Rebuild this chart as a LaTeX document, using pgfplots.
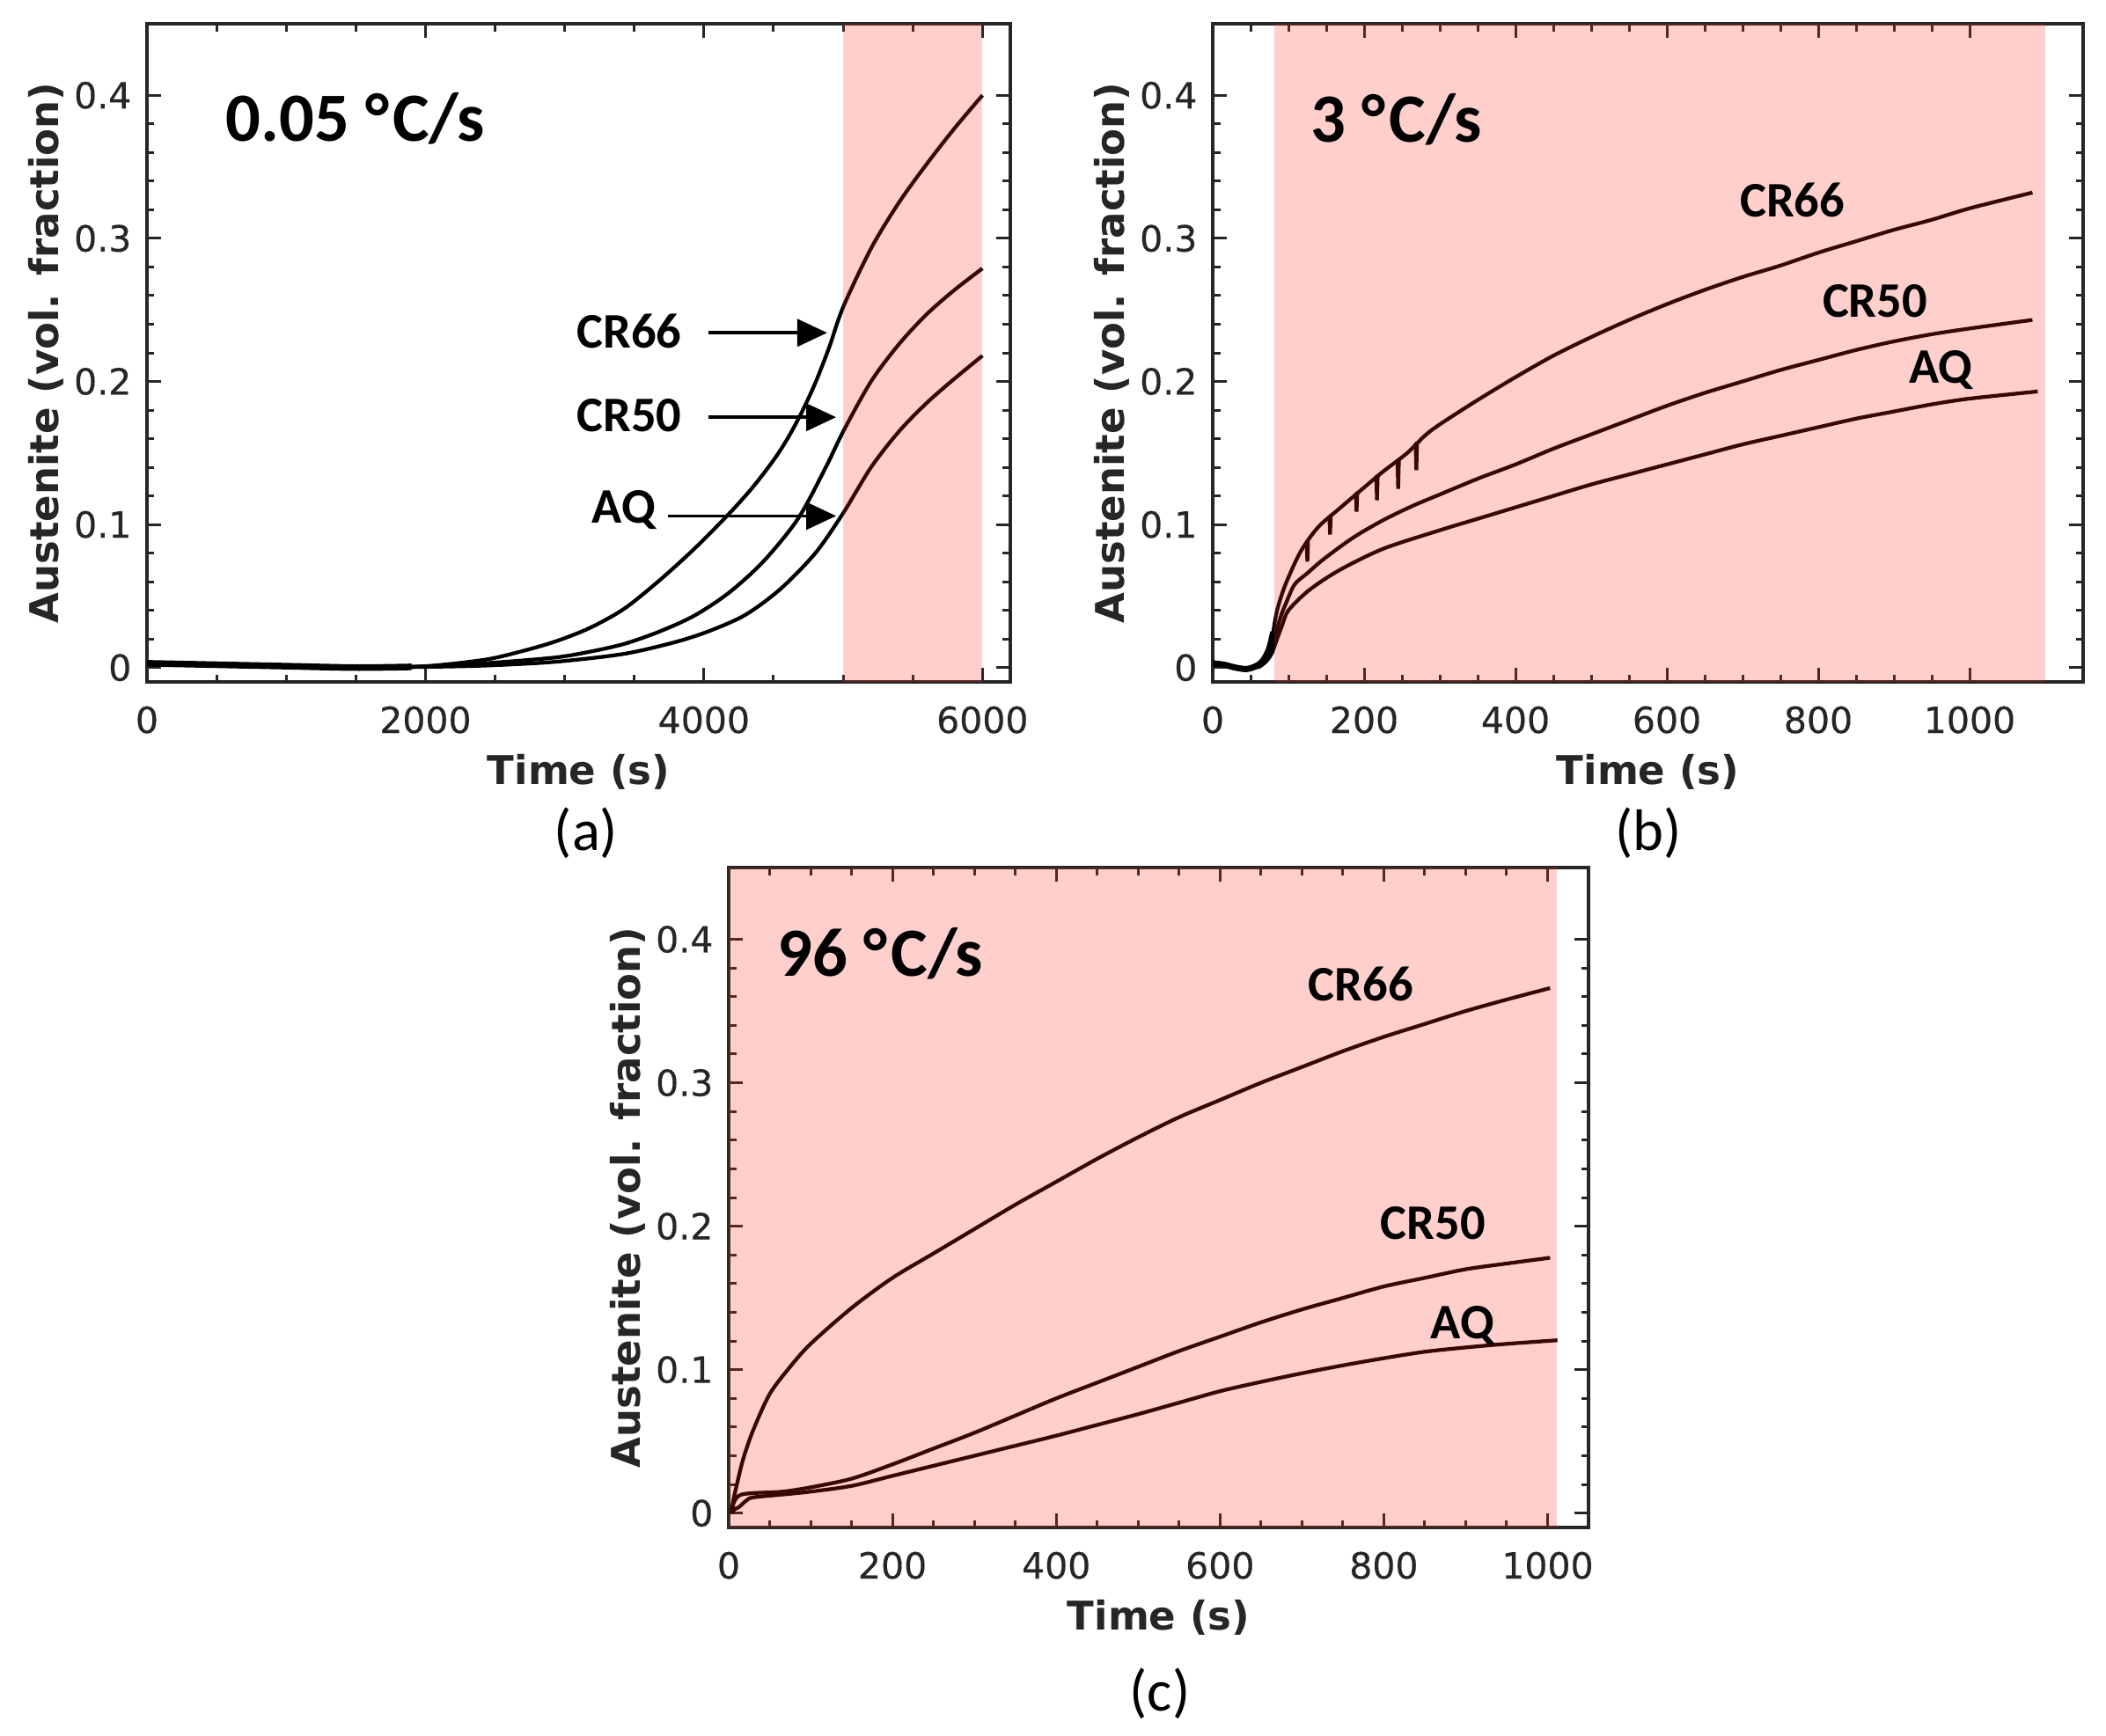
\documentclass[border=0pt]{standalone}
\usepackage{fontspec}
\setmainfont{Carlito}
\newfontfamily\dejavu[FakeBold=0.35]{DejaVu Sans}
\newfontfamily\dejavub{DejaVu Sans}
\usepackage{pgfplots}
\pgfplotsset{compat=1.18}
\usetikzlibrary{arrows.meta}
\definecolor{pinkfill}{RGB}{255,40,20}
\definecolor{axgray}{RGB}{38,38,38}

\pgfplotsset{
  panel/.style={
    scale only axis,
    anchor=south west,
    ymin=-0.01, ymax=0.45,
    ytick={0,0.1,0.2,0.3,0.4},
    minor y tick num=4,
    minor x tick num=3,
    tick align=inside,
    major tick length=3.2pt,
    minor tick length=1.7pt,
    axis line style={axgray, line width=0.7pt},
    every tick/.style={axgray, line width=0.6pt},
    scaled ticks=false,
    /pgf/number format/assume math mode=true,
    /pgf/number format/1000 sep={},
    tick label style={font=\dejavu\fontsize{8.2}{9.8}\selectfont, text=axgray},
    xticklabel style={yshift=-2pt},
    xlabel={Time (s)},
    ylabel={Austenite (vol. fraction)},
    label style={font=\dejavub\bfseries\fontsize{9}{10.8}\selectfont, text=axgray},
    xlabel style={at={([yshift=-20.4pt]axis description cs:0.5,0)}, anchor=center},
    ylabel style={at={([xshift=-23pt]axis description cs:0,0.5)}, anchor=center},
  },
  curve/.style={black, line width=0.85pt, mark=none, smooth, tension=0.5},
  spike/.style={black, line width=0.85pt, mark=none, sharp plot},
}
\tikzset{
  pinkband/.style={fill=pinkfill, fill opacity=0.22, draw=none},
  ttl/.style={anchor=west, inner sep=0pt, font=\bfseries\fontsize{15.7}{18}\selectfont},
  lbl/.style={inner sep=0pt, font=\bfseries\fontsize{11.3}{13}\selectfont},
}
\newcommand{\degC}{°\kern0.9pt C}

\begin{document}
\begin{tikzpicture}
\useasboundingbox (0,0) rectangle (478.6pt,394.4pt);

% ---------------- (a) ----------------
\begin{axis}[panel, at={(33.4pt,239.4pt)}, width=196.2pt, height=149.6pt,
  xmin=0, xmax=6200, xtick={0,2000,4000,6000}]
\addplot[curve, line width=1.5pt] coordinates {(0,0.003) (500,0.002) (1000,0.001) (1500,0.0) (1900,0.0005)};
\addplot[curve] coordinates {(0,0.003) (500,0.002) (1000,0.001) (1500,0.0) (2000,0.001)
 (2425,0.0055) (2675,0.011) (2925,0.018) (3175,0.0275) (3425,0.041) (3675,0.0605)
 (3925,0.0825) (4175,0.107) (4350,0.126) (4500,0.145) (4600,0.160) (4700,0.178)
 (4800,0.199) (4900,0.224) (5000,0.252) (5200,0.293) (5400,0.325) (5600,0.352)
 (5800,0.377) (6000,0.400)};
\addplot[curve] coordinates {(0,0.003) (500,0.002) (1000,0.001) (1500,0.0) (2000,0.0008)
 (2425,0.003) (2925,0.007) (3175,0.011) (3425,0.0165) (3675,0.025) (3925,0.036)
 (4175,0.052) (4425,0.074) (4675,0.104) (4875,0.140) (5000,0.165) (5200,0.200)
 (5400,0.226) (5600,0.247) (5800,0.264) (6000,0.279)};
\addplot[curve] coordinates {(0,0.003) (500,0.002) (1000,0.001) (1500,0.0) (2000,0.0005)
 (2425,0.0014) (2925,0.004) (3425,0.0096) (3800,0.018) (4050,0.026) (4300,0.037)
 (4550,0.055) (4800,0.080) (5000,0.108) (5200,0.140) (5400,0.165) (5600,0.185)
 (5800,0.202) (6000,0.218)};
\fill[pinkband] (axis cs:5000,-0.01) rectangle (axis cs:6000,0.45);
\node[ttl] at (axis cs:562,0.384) {0.05 \degC/s};
\node[lbl] at (axis cs:3464,0.235) {CR66};
\node[lbl] at (axis cs:3464,0.176) {CR50};
\node[lbl] at (axis cs:3425,0.110) {AQ};
\draw[black, line width=0.75pt, -{Triangle[length=6.8pt,width=6.2pt]}] (axis cs:4032,0.234) -- (axis cs:4885,0.234);
\draw[black, line width=0.75pt, -{Triangle[length=6.8pt,width=6.2pt]}] (axis cs:4032,0.175) -- (axis cs:4949,0.175);
\draw[black, line width=0.75pt, -{Triangle[length=6.8pt,width=6.2pt]}] (axis cs:3741,0.106) -- (axis cs:4949,0.106);
\end{axis}

% ---------------- (b) ----------------
\begin{axis}[panel, at={(275.6pt,239.4pt)}, width=197.8pt, height=149.6pt,
  xmin=0, xmax=1150, xtick={0,200,400,600,800,1000}]
\addplot[curve, line width=1.4pt] coordinates {(0,0.003) (15,0.002) (30,0.0) (45,-0.001) (57,0.001) (65,0.004)
 (70,0.008) (75,0.014) (80,0.025)};
\addplot[curve] coordinates {(80,0.025) (85,0.040) (96,0.058) (116,0.081)
 (139,0.098) (167,0.111) (198,0.125) (225,0.137) (257,0.150) (280,0.162)
 (300,0.170) (350,0.187) (400,0.203) (450,0.218) (500,0.231) (550,0.243) (600,0.254)
 (650,0.264) (700,0.273) (750,0.281) (800,0.290) (850,0.298) (900,0.306) (950,0.313)
 (1000,0.321) (1083,0.332)};
\addplot[spike] coordinates {(124,0.087) (125,0.074) (126,0.088)

 (154,0.106) (155,0.093) (156,0.107)

 (189,0.122) (190,0.109) (191,0.123)

 (216,0.134) (217,0.117) (218,0.135)

 (244,0.145) (245,0.125) (246,0.146)

 (268,0.157) (269,0.138) (270,0.158)};
\addplot[curve] coordinates {(57,0.0) (65,0.002)
 (72,0.006) (78,0.012) (84,0.025) (90,0.036) (96,0.044) (108,0.058) (125,0.066)
 (147,0.076) (186,0.091) (225,0.103) (264,0.113) (300,0.121) (350,0.132) (400,0.142)
 (450,0.153) (500,0.163) (550,0.173) (600,0.183) (650,0.192) (700,0.200) (750,0.208)
 (800,0.215) (850,0.222) (900,0.228) (950,0.233) (1000,0.237) (1083,0.243)};
\addplot[curve] coordinates {(60,0.0) (70,0.004)
 (78,0.010) (85,0.020) (92,0.030) (100,0.040) (127,0.054) (167,0.068) (225,0.083)
 (300,0.096) (350,0.104) (400,0.112) (450,0.120) (500,0.128) (550,0.135) (600,0.142)
 (650,0.149) (700,0.156) (750,0.162) (800,0.168) (850,0.174) (900,0.179) (950,0.184)
 (1000,0.188) (1090,0.193)};
\fill[pinkband] (axis cs:81,-0.01) rectangle (axis cs:1100,0.45);
\node[ttl] at (axis cs:129,0.383) {3 \degC/s};
\node[lbl] at (axis cs:766,0.327) {CR66};
\node[lbl] at (axis cs:875,0.256) {CR50};
\node[lbl] at (axis cs:962,0.208) {AQ};
\end{axis}

% ---------------- (c) ----------------
\begin{axis}[panel, at={(165.6pt,47.2pt)}, width=195.4pt, height=150pt,
  xmin=0, xmax=1050, xtick={0,200,400,600,800,1000}]
\addplot[curve] coordinates {(3,0.0) (6,0.010) (10,0.020) (15,0.032) (20,0.042) (30,0.058)
 (50,0.083) (75,0.102) (100,0.118) (150,0.143) (200,0.164) (250,0.181) (300,0.198)
 (350,0.215) (400,0.231) (450,0.247) (500,0.262) (550,0.276) (600,0.288) (650,0.300)
 (700,0.311) (750,0.322) (800,0.332) (850,0.341) (900,0.350) (950,0.358) (1003,0.366)};
\addplot[curve] coordinates {(3,0.0) (6,0.007) (10,0.011) (16,0.013) (30,0.014) (66,0.015)
 (100,0.018) (150,0.024) (200,0.034) (250,0.045) (300,0.056) (350,0.068) (400,0.080)
 (450,0.091) (500,0.102) (550,0.113) (600,0.123) (650,0.133) (700,0.142) (750,0.150)
 (800,0.158) (850,0.164) (900,0.170) (950,0.174) (1003,0.178)};
\addplot[curve] coordinates {(3,0.0) (8,0.003) (12,0.004) (16,0.006) (22,0.009) (30,0.011)
 (66,0.013) (100,0.015) (150,0.019) (200,0.026) (250,0.033) (300,0.040) (350,0.047)
 (400,0.054) (450,0.0615) (500,0.069) (550,0.077) (600,0.085) (650,0.0915) (700,0.0975)
 (750,0.103) (800,0.108) (850,0.1125) (900,0.1155) (950,0.118) (1012,0.1205)};
\fill[pinkband] (axis cs:0,-0.01) rectangle (axis cs:1011,0.45);
\node[ttl] at (axis cs:59,0.390) {96 \degC/s};
\node[lbl] at (axis cs:772,0.369) {CR66};
\node[lbl] at (axis cs:860,0.202) {CR50};
\node[lbl] at (axis cs:896,0.131) {AQ};
\end{axis}

% panel letters
\node[font=\fontsize{13.3}{16}\selectfont] at (133.2pt,205pt) {(a)};
\node[font=\fontsize{13.3}{16}\selectfont] at (374.6pt,205pt) {(b)};
\node[font=\fontsize{13.3}{16}\selectfont] at (263.6pt,9.4pt) {(c)};
\end{tikzpicture}
\end{document}
